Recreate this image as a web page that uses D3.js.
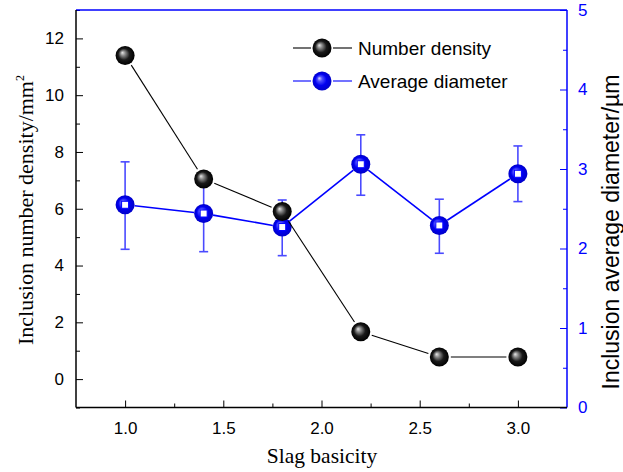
<!DOCTYPE html>
<html><head><meta charset="utf-8">
<script src="https://cdn.jsdelivr.net/npm/d3@7"></script>
<style>body{margin:0;background:#fff}</style>
</head><body>
<svg id="c" width="623" height="472"></svg>
<script>
const basicity = [1.0, 1.4, 1.8, 2.2, 2.6, 3.0];
const numberDensity = [11.4, 7.05, 5.9, 1.67, 0.78, 0.78];
const avgDiameter = [2.55, 2.44, 2.27, 3.06, 2.29, 2.94];
const diamErrLow = [1.99, 1.96, 1.91, 2.67, 1.94, 2.59];
const diamErrHigh = [3.09, 2.92, 2.61, 3.43, 2.62, 3.29];
const xTicks = [1.0, 1.5, 2.0, 2.5, 3.0];
const yLeftTicks = [0, 2, 4, 6, 8, 10, 12];
const yRightTicks = [0, 1, 2, 3, 4, 5];
const seriesNames = ["Number density", "Average diameter"];

const svg = d3.select("#c");
const L = 76, R = 567, T = 10, B = 407.5;
const x = d3.scaleLinear().domain([0.75, 3.25]).range([L, R]);
const yL = d3.scaleLinear().domain([-1, 13]).range([B, T]);
const yR = d3.scaleLinear().domain([0, 5]).range([B, T]);
const BLUE = "#0000ff";
const SANS = "Liberation Sans, Arial, sans-serif";
const SERIF = "Liberation Serif, Times New Roman, serif";

const defs = svg.append("defs");
const gb = defs.append("radialGradient").attr("id","gBlack").attr("cx","50%").attr("cy","50%").attr("r","50%").attr("fx","35%").attr("fy","35%");
gb.append("stop").attr("offset","0%").attr("stop-color","#e8e8e8");
gb.append("stop").attr("offset","25%").attr("stop-color","#8a8a8a");
gb.append("stop").attr("offset","60%").attr("stop-color","#1a1a1a");
gb.append("stop").attr("offset","100%").attr("stop-color","#000");
const gu = defs.append("radialGradient").attr("id","gBlue").attr("cx","50%").attr("cy","50%").attr("r","50%").attr("fx","35%").attr("fy","35%");
gu.append("stop").attr("offset","0%").attr("stop-color","#d8d8ff");
gu.append("stop").attr("offset","25%").attr("stop-color","#5050ff");
gu.append("stop").attr("offset","60%").attr("stop-color","#0000f0");
gu.append("stop").attr("offset","100%").attr("stop-color","#0000c8");

// axes
const axL = d3.axisLeft(yL).tickValues(yLeftTicks).tickSize(-7).tickPadding(12).tickFormat(d3.format("d"));
const gL = svg.append("g").attr("transform",`translate(${L},0)`).call(axL);
gL.select(".domain").remove();
gL.selectAll("line").attr("stroke","#000");
gL.selectAll("text").attr("font-family",SANS).attr("font-size",17).attr("fill","#000");
svg.append("g").attr("transform",`translate(${L},0)`).call(d3.axisLeft(yL).tickValues(d3.range(-1,14,1).filter(v=>v%2!==0)).tickSize(-4).tickFormat(""))
  .call(g=>{g.select(".domain").remove();g.selectAll("line").attr("stroke","#000");});

const axR = d3.axisRight(yR).tickValues(yRightTicks).tickSize(-7).tickPadding(11).tickFormat(d3.format("d"));
const gR = svg.append("g").attr("transform",`translate(${R},0)`).call(axR);
gR.select(".domain").remove();
gR.selectAll("line").attr("stroke",BLUE);
gR.selectAll("text").attr("font-family",SANS).attr("font-size",17).attr("fill",BLUE);
svg.append("g").attr("transform",`translate(${R},0)`).call(d3.axisRight(yR).tickValues([0.5,1.5,2.5,3.5,4.5]).tickSize(-4).tickFormat(""))
  .call(g=>{g.select(".domain").remove();g.selectAll("line").attr("stroke",BLUE);});

const axB = d3.axisBottom(x).tickValues(xTicks).tickSize(-7).tickPadding(14).tickFormat(d3.format(".1f"));
const gB = svg.append("g").attr("transform",`translate(0,${B})`).call(axB);
gB.select(".domain").remove();
gB.selectAll("line").attr("stroke","#000");
gB.selectAll("text").attr("font-family",SANS).attr("font-size",17).attr("fill","#000");
svg.append("g").attr("transform",`translate(0,${B})`).call(d3.axisBottom(x).tickValues([1.25,1.75,2.25,2.75]).tickSize(-4).tickFormat(""))
  .call(g=>{g.select(".domain").remove();g.selectAll("line").attr("stroke","#000");});

// frame
svg.append("line").attr("x1",L).attr("x2",R).attr("y1",T).attr("y2",T).attr("stroke",BLUE).attr("stroke-width",1.5);
svg.append("line").attr("x1",R).attr("x2",R).attr("y1",T).attr("y2",B).attr("stroke",BLUE).attr("stroke-width",1.5);
svg.append("line").attr("x1",L).attr("x2",L).attr("y1",T).attr("y2",B).attr("stroke","#000").attr("stroke-width",1.5);
svg.append("line").attr("x1",L).attr("x2",R).attr("y1",B).attr("y2",B).attr("stroke","#000").attr("stroke-width",1.5);

// titles
svg.append("text").attr("transform","translate(33,210) rotate(-90)").attr("text-anchor","middle")
  .attr("font-family",SERIF).attr("font-size",22).attr("fill","#000")
  .html('Inclusion number density/mm<tspan dy="-9" font-size="12">2</tspan>');
svg.append("text").attr("transform","translate(619,232) rotate(-90)").attr("text-anchor","middle")
  .attr("font-family",SANS).attr("font-size",23).attr("fill","#000")
  .text("Inclusion average diameter/\u00b5m");
svg.append("text").attr("x",322).attr("y",463).attr("text-anchor","middle")
  .attr("font-family",SERIF).attr("font-size",21.5).attr("fill","#000")
  .text("Slag basicity");

// lines with gaps near markers
function gapLines(pts, color, w, gap){
  const segs = d3.pairs(pts).map(([a,b])=>{
    const dx=b[0]-a[0], dy=b[1]-a[1], d=Math.hypot(dx,dy);
    return [a[0]+dx*gap/d, a[1]+dy*gap/d, b[0]-dx*gap/d, b[1]-dy*gap/d];
  });
  svg.append("g").selectAll("line").data(segs).join("line")
    .attr("x1",s=>s[0]).attr("y1",s=>s[1]).attr("x2",s=>s[2]).attr("y2",s=>s[3])
    .attr("stroke",color).attr("stroke-width",w);
}
const blackPts = basicity.map((b,i)=>[x(b), yL(numberDensity[i])]);
const bluePts = basicity.map((b,i)=>[x(b), yR(avgDiameter[i])]);
const R0 = 9.5;

// blue series: error bars, line, markers
const eb = svg.append("g");
basicity.forEach((b,i)=>{
  const cx=x(b);
  eb.append("line").attr("x1",cx).attr("x2",cx).attr("y1",yR(diamErrHigh[i])).attr("y2",yR(diamErrLow[i])).attr("stroke","#4a4aff").attr("stroke-width",1.6);
  [diamErrHigh[i], diamErrLow[i]].forEach(v=>eb.append("line").attr("x1",cx-4.5).attr("x2",cx+4.5).attr("y1",yR(v)).attr("y2",yR(v)).attr("stroke","#4a4aff").attr("stroke-width",1.6));
});
gapLines(bluePts, BLUE, 1.6, R0);
const bm = svg.append("g").selectAll("g").data(bluePts).join("g").attr("transform",d=>`translate(${d[0]},${d[1]})`);
bm.append("circle").attr("r",R0).attr("fill","url(#gBlue)");
bm.append("rect").attr("x",-3.5).attr("y",-3.5).attr("width",7).attr("height",7).attr("fill","#fff").attr("stroke",BLUE).attr("stroke-width",1);

// black series
gapLines(blackPts, "#000", 1.1, R0+2);
svg.append("g").selectAll("circle").data(blackPts).join("circle")
  .attr("cx",d=>d[0]).attr("cy",d=>d[1]).attr("r",R0).attr("fill","url(#gBlack)");

// legend
const leg = svg.append("g");
[["#000","url(#gBlack)",48],[BLUE,"url(#gBlue)",81]].forEach((s,i)=>{
  const yy=s[2];
  leg.append("line").attr("x1",293).attr("x2",311).attr("y1",yy).attr("y2",yy).attr("stroke",s[0]).attr("stroke-width",1.1);
  leg.append("line").attr("x1",333).attr("x2",352).attr("y1",yy).attr("y2",yy).attr("stroke",s[0]).attr("stroke-width",1.1);
  leg.append("circle").attr("cx",322).attr("cy",yy).attr("r",R0).attr("fill",s[1]);
  leg.append("text").attr("x",358).attr("y",yy+7).attr("font-family",SANS).attr("font-size",19).attr("fill","#000").text(seriesNames[i]);
});
</script>
</body></html>
